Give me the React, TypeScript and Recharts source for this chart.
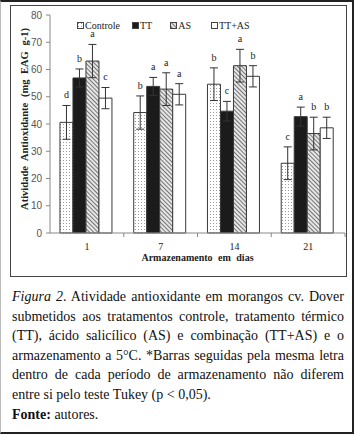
import { BarChart, Bar, XAxis, YAxis, ErrorBar, Legend, LabelList } from 'recharts';

// storage days (x categories)
const days = ['1', '7', '14', '21'];

// antioxidant activity (mg EAG g-1) and error bars
const controle = [40.6, 44.2, 54.6, 25.6];
const controleErr = [6.2, 6.1, 6.0, 6.0];
const tt = [56.9, 53.8, 44.7, 42.7];
const ttErr = [3.3, 3.3, 3.6, 3.5];
const as = [63.1, 52.8, 61.4, 36.5];
const asErr = [6.1, 6.0, 6.0, 6.0];
const ttAs = [49.5, 50.9, 57.5, 38.6];
const ttAsErr = [3.9, 3.9, 3.9, 3.9];

// Tukey letters
const controleLetters = ['d', 'b', 'b', 'c'];
const ttLetters = ['b', 'a', 'c', 'a'];
const asLetters = ['a', 'a', 'a', 'b'];
const ttAsLetters = ['c', 'a', 'b', 'b'];

const yTicks = [0, 10, 20, 30, 40, 50, 60, 70, 80];

const series = [
  { key: 'Controle', values: controle, errs: controleErr, letters: controleLetters, fill: 'url(#dots)' },
  { key: 'TT', values: tt, errs: ttErr, letters: ttLetters, fill: '#1b1b1b' },
  { key: 'AS', values: as, errs: asErr, letters: asLetters, fill: 'url(#hatch)' },
  { key: 'TT+AS', values: ttAs, errs: ttAsErr, letters: ttAsLetters, fill: '#ffffff' },
];

const data = days.map((day, i) => {
  const row: Record<string, string | number> = { day };
  series.forEach(s => {
    row[s.key] = s.values[i];
    row[s.key + 'Err'] = s.errs[i];
    row[s.key + 'Letter'] = s.letters[i];
  });
  return row;
});

const serif = '"Liberation Serif", "Times New Roman", serif';
const sans = '"Liberation Sans", Arial, sans-serif';
const BAND = 295 / 4;

const letterLabel = (vals: number[], errs: number[]) => (props: any) => {
  const { x, y, width, height, value, index } = props;
  const ppu = height / vals[index];
  const top = y - errs[index] * ppu;
  return (
    <text x={x + width / 2} y={top - 7} textAnchor="middle" fontFamily={serif} fontSize={10} fill="#222">
      {value}
    </text>
  );
};

const DayTick = (props: any) => {
  const { x, y, payload } = props;
  return (
    <g>
      <text x={x} y={y + 17} textAnchor="middle" fontFamily={serif} fontSize={10} fill="#222">
        {payload.value}
      </text>
      <line x1={x + BAND / 2} x2={x + BAND / 2} y1={y} y2={y + 4} stroke="#888" />
    </g>
  );
};

const LegendIcon = ({ fill }: { fill: string }) => (
  <svg width={7} height={7} style={{ marginRight: 1 }}>
    <rect x={0.5} y={0.5} width={6} height={6} fill={fill} stroke="#444" />
  </svg>
);

const renderLegend = () => (
  <div style={{ display: 'flex', alignItems: 'center', fontFamily: serif, fontSize: 10, color: '#222' }}>
    {series.map((s, i) => (
      <span key={s.key} style={{ display: 'inline-flex', alignItems: 'center', marginRight: [12, 18, 20, 0][i] }}>
        <LegendIcon fill={s.fill} />
        {s.key}
      </span>
    ))}
  </div>
);

export default function App() {
  return (
    <div style={{ position: 'absolute', left: 0, top: 0, width: 355, height: 436, background: '#fff' }}>
      <div
        style={{
          position: 'absolute', left: 0, top: 0, width: 354, height: 434, boxSizing: 'border-box',
          borderTop: '2px solid #222', borderRight: '2px solid #222', borderBottom: '2px solid #222',
          borderLeft: '1px solid #bbb',
        }}
      />
      <div
        style={{
          position: 'absolute', left: 10, top: 5, width: 337, height: 272, boxSizing: 'border-box',
          border: '1px solid #444',
        }}
      >
        <BarChart
          width={335}
          height={270}
          data={data}
          margin={{ top: 9, right: 1, bottom: 0, left: 0 }}
          barCategoryGap="13.5%"
          barGap={0}
        >
          <defs>
            <pattern id="dots" width={3} height={3} patternUnits="userSpaceOnUse">
              <rect width={3} height={3} fill="#fff" />
              <rect x={1} y={1} width={1} height={1} fill="#9a9a9a" />
            </pattern>
            <pattern id="hatch" width={3} height={3} patternUnits="userSpaceOnUse" patternTransform="rotate(-45)">
              <rect width={3} height={3} fill="#e6e6e6" />
              <line x1={0} y1={0} x2={0} y2={3} stroke="#444" strokeWidth={1.4} />
            </pattern>
          </defs>
          <XAxis
            dataKey="day"
            height={32}
            stroke="#888"
            tickSize={0}
            tickMargin={0}
            tickLine={false}
            tick={<DayTick />}
            label={{
              content: (p: any) => {
                const vb = p.viewBox;
                return (
                  <text x={vb.x + vb.width / 2} y={vb.y + 28} textAnchor="middle" fontFamily={serif} fontSize={10} fontWeight="bold" fill="#222" style={{ wordSpacing: 3 }}>
                    Armazenamento em dias
                  </text>
                );
              },
            }}
          />
          <YAxis
            width={39}
            domain={[0, 80]}
            ticks={yTicks}
            stroke="#888"
            tickSize={4}
            tickMargin={4}
            tick={{ fontFamily: sans, fontSize: 10, fill: '#555' }}
            label={{
              content: () => (
                <text
                  transform="translate(17, 113) rotate(-90)"
                  textAnchor="middle"
                  fontFamily={serif}
                  fontSize={10.5}
                  fontWeight="bold"
                  fill="#222"
                  style={{ wordSpacing: 3 }}
                >
                  Atividade Antioxidante  (mg EAG g-1)
                </text>
              ),
            }}
          />
          <Legend content={renderLegend} wrapperStyle={{ position: 'absolute', top: 14, left: 66, width: 'auto' }} />
          {series.map(s => (
            <Bar key={s.key} dataKey={s.key} fill={s.fill} stroke="#3a3a3a" strokeWidth={1} isAnimationActive={false}>
              <ErrorBar dataKey={s.key + 'Err'} width={4} stroke="#333" strokeWidth={1} direction="y" />
              <LabelList dataKey={s.key + 'Letter'} content={letterLabel(s.values, s.errs)} />
            </Bar>
          ))}
        </BarChart>
      </div>
      <div
        style={{
          position: 'absolute', left: 12, top: 287, width: 332, fontFamily: serif, fontSize: 14,
          lineHeight: '19.6px', color: '#111', textAlign: 'justify',
        }}
      >
        <div>
          <i>Figura 2</i>. Atividade antioxidante em morangos cv. Dover submetidos aos tratamentos controle, tratamento
          térmico (TT), ácido salicílico (AS) e combinação (TT+AS) e o armazenamento a 5°C. *Barras seguidas pela mesma
          letra dentro de cada período de armazenamento não diferem entre si pelo teste Tukey (p &lt; 0,05).
        </div>
        <div>
          <b>Fonte:</b> autores.
        </div>
      </div>
    </div>
  );
}
